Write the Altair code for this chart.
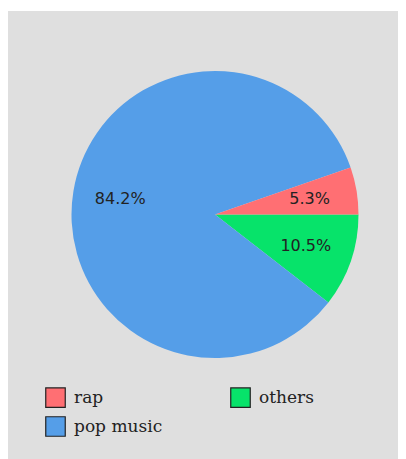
import altair as alt
import pandas as pd
import math

categories = ["others", "pop music", "rap"]
values = [10.5, 84.2, 5.3]
labels = ["10.5%", "84.2%", "5.3%"]
slice_order = [0, 1, 2]
legend_order = ["rap", "pop music", "others"]
colors = ["#ff6f73", "#559ee8", "#07e36a"]

df = pd.DataFrame({"category": categories, "value": values, "label": labels, "ord": slice_order})

W, H = 390, 451
CX, CY = 207, 206.5

theta_scale = alt.Scale(range=[math.pi / 2, math.pi / 2 + 2 * math.pi])

bg = alt.Chart(pd.DataFrame({"a": [0]})).mark_rect(color="#dfdfdf").encode(
    x=alt.value(0), x2=alt.value(W), y=alt.value(3), y2=alt.value(H)
)

base = alt.Chart(df).encode(
    theta=alt.Theta("value:Q", stack=True, scale=theta_scale),
    order=alt.Order("ord:Q"),
    x=alt.value(CX),
    y=alt.value(CY),
)

pie = base.mark_arc(outerRadius=143.5).encode(
    color=alt.Color(
        "category:N",
        scale=alt.Scale(domain=legend_order, range=colors),
        sort=legend_order,
        legend=alt.Legend(
            title=None,
            orient="none",
            legendX=37,
            legendY=379,
            columns=2,
            columnPadding=65,
            rowPadding=4,
            symbolType="square",
            symbolSize=380,
            symbolStrokeColor="#222",
            symbolStrokeWidth=1.2,
            symbolOpacity=1,
            labelFont="DejaVu Serif",
            labelFontSize=17,
            labelColor="#222",
            labelOffset=8,
        ),
    )
)

text = base.mark_text(radius=96, font="DejaVu Sans", fontSize=16, color="#222", baseline="middle", align="center").encode(
    text="label:N"
)

chart = alt.layer(bg, pie, text).properties(
    width=W, height=H, background="white", padding=0
).configure_view(stroke=None)

chart.save("out.html", embed_options={"renderer": "svg", "actions": False})
